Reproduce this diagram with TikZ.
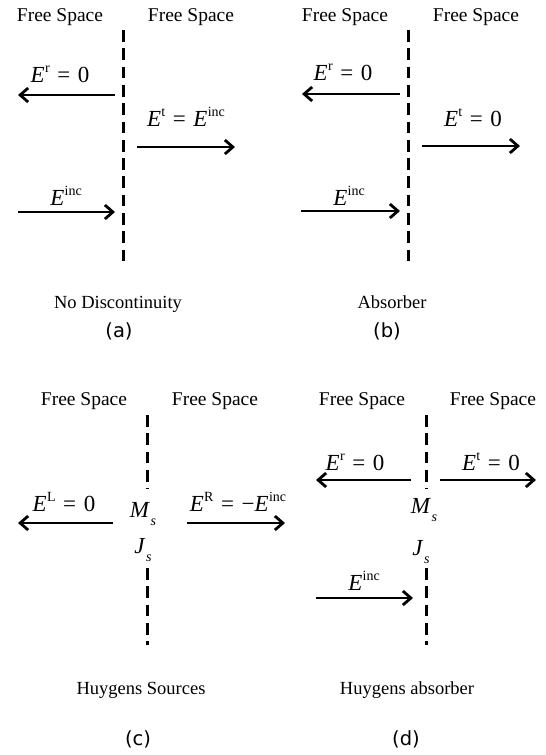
\documentclass[tikz,border=0pt]{standalone}
\usepackage{fontspec}
\setmainfont{Liberation Serif}
\newfontfamily\capfont{DejaVu Sans}
\usetikzlibrary{arrows.meta}
\newcommand\Es[1]{\textit{E}\kern0.3pt\raisebox{0.42em}{\fontsize{14}{14}\selectfont #1}}
\newcommand\Sub[1]{\textit{#1}\kern0.5pt\raisebox{-0.38em}{\fontsize{14}{14}\selectfont\itshape s}}
\newcommand\eqs{\hspace{0.33em}=\hspace{0.33em}}
\tikzset{
  lbl/.style={anchor=base, inner sep=0pt, font=\fontsize{19.5}{22}\selectfont},
  captext/.style={anchor=base, inner sep=0pt, font=\fontsize{18.5}{22}\selectfont},
  tagtext/.style={anchor=base, inner sep=0pt, font=\capfont\fontsize{19.5}{22}\selectfont},
  mth/.style={anchor=base, inner sep=0pt, font=\fontsize{23}{26}\selectfont},
  wave/.style={line width=2.8pt, -{Straight Barb[length=8pt,width=14pt]}},
  wall/.style={line width=3pt, dash pattern=on 11.7pt off 6.6pt}
}
\begin{document}
\begin{tikzpicture}[x=1pt,y=-1pt]
\useasboundingbox (0,0) rectangle (546,755);
% ---------- (a)
\node[lbl] (a-fs1) at (60,21) {Free Space};
\node[lbl] (a-fs2) at (191,21) {Free Space};
\coordinate (a-t) at (123,30); \coordinate (a-b) at (123,262);
\draw[wall] (a-t) -- (a-b);
\node[mth] (a-er) at (60,82) {\Es{r}\eqs 0};
\coordinate (a-r1) at (115,95); \coordinate (a-r2) at (18,95);
\draw[wave] (a-r1) -- (a-r2);
\node[mth] (a-et) at (186,126) {\Es{t}\eqs\Es{inc}};
\coordinate (a-t1) at (137,147); \coordinate (a-t2) at (235,147);
\draw[wave] (a-t1) -- (a-t2);
\node[mth] (a-ei) at (66,205) {\Es{inc}};
\coordinate (a-i1) at (18,212); \coordinate (a-i2) at (115,212);
\draw[wave] (a-i1) -- (a-i2);
\node[captext] (a-cap) at (118,308) {No Discontinuity};
\node[tagtext] (a-tag) at (119,337) {(a)};
% ---------- (b)
\node[lbl] (b-fs1) at (345,21) {Free Space};
\node[lbl] (b-fs2) at (476,21) {Free Space};
\coordinate (b-t) at (408,30); \coordinate (b-b) at (408,262);
\draw[wall] (b-t) -- (b-b);
\node[mth] (b-er) at (343,80) {\Es{r}\eqs 0};
\coordinate (b-r1) at (400,94); \coordinate (b-r2) at (302,94);
\draw[wave] (b-r1) -- (b-r2);
\node[mth] (b-et) at (473,126) {\Es{t}\eqs 0};
\coordinate (b-t1) at (422,146); \coordinate (b-t2) at (520,146);
\draw[wave] (b-t1) -- (b-t2);
\node[mth] (b-ei) at (349,205) {\Es{inc}};
\coordinate (b-i1) at (301,211); \coordinate (b-i2) at (400,211);
\draw[wave] (b-i1) -- (b-i2);
\node[captext] (b-cap) at (392,308) {Absorber};
\node[tagtext] (b-tag) at (387,337) {(b)};
% ---------- (c)
\node[lbl] (c-fs1) at (84,405) {Free Space};
\node[lbl] (c-fs2) at (215,405) {Free Space};
\coordinate (c-t) at (147,415); \coordinate (c-m) at (147,489);
\draw[wall] (c-t) -- (c-m);
\coordinate (c-n) at (147,568); \coordinate (c-b) at (147,645);
\draw[wall] (c-n) -- (c-b);
\node[mth] (c-el) at (64,511) {\Es{L}\eqs 0};
\coordinate (c-l1) at (113,523); \coordinate (c-l2) at (18,523);
\draw[wave] (c-l1) -- (c-l2);
\node[mth] (c-ms) at (143,517) {\Sub{M}};
\node[mth] (c-js) at (143,553) {\Sub{J}};
\node[mth] (c-eR) at (238,511) {\Es{R}\eqs\textminus\Es{inc}};
\coordinate (c-R1) at (187,523); \coordinate (c-R2) at (285,523);
\draw[wave] (c-R1) -- (c-R2);
\node[captext] (c-cap) at (141,694) {Huygens Sources};
\node[tagtext] (c-tag) at (138,745) {(c)};
% ---------- (d)
\node[lbl] (d-fs1) at (362,405) {Free Space};
\node[lbl] (d-fs2) at (493,405) {Free Space};
\coordinate (d-t) at (426,415); \coordinate (d-m) at (426,489);
\draw[wall] (d-t) -- (d-m);
\coordinate (d-n) at (426,568); \coordinate (d-b) at (426,645);
\draw[wall] (d-n) -- (d-b);
\node[mth] (d-er) at (355,470) {\Es{r}\eqs 0};
\coordinate (d-r1) at (411,480); \coordinate (d-r2) at (316,480);
\draw[wave] (d-r1) -- (d-r2);
\node[mth] (d-et) at (491,470) {\Es{t}\eqs 0};
\coordinate (d-t1) at (440,480); \coordinate (d-t2) at (536,480);
\draw[wave] (d-t1) -- (d-t2);
\node[mth] (d-ms) at (424,513) {\Sub{M}};
\node[mth] (d-js) at (421,555) {\Sub{J}};
\node[mth] (d-ei) at (364,590) {\Es{inc}};
\coordinate (d-i1) at (316,598); \coordinate (d-i2) at (413,598);
\draw[wave] (d-i1) -- (d-i2);
\node[captext] (d-cap) at (407,694) {Huygens absorber};
\node[tagtext] (d-tag) at (406,745) {(d)};
\end{tikzpicture}
\end{document}
